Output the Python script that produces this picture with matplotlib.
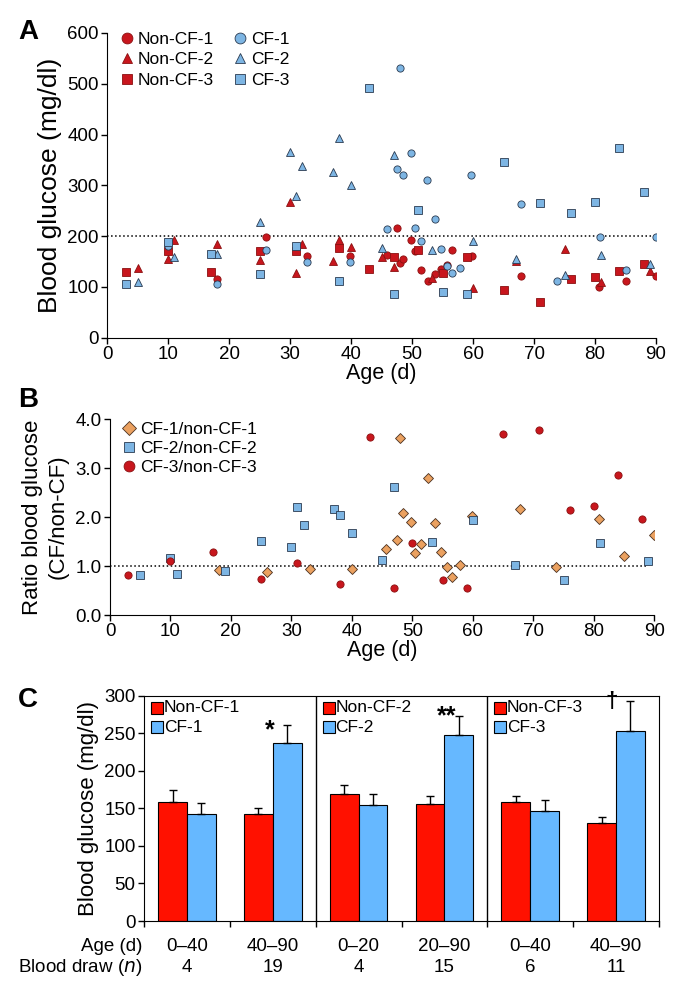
import numpy as np
import matplotlib
matplotlib.use("Agg")
import matplotlib.pyplot as plt
from matplotlib.transforms import blended_transform_factory

plt.rcParams['font.family'] = ['Liberation Sans', 'DejaVu Sans']

# In[] Daten Panel A (Alter in Tagen, Blutzucker mg/dl)
nc1_age = [18, 26, 32.8, 39.8, 45.8, 47.5, 48, 48.5, 49.8, 50.5, 51.5, 52.6, 53.7, 54.8, 55.7, 56.5, 59.8, 67.8, 80.7, 85, 90]
nc1_glu = [116, 198, 160, 160, 162, 216, 148, 154, 193, 171, 133, 111, 125, 136, 143, 172, 160, 121, 100, 112, 121]
nc2_age = [5, 10, 11, 18, 25, 30, 31, 32, 37, 38, 40, 45, 47, 53.2, 60, 67, 75, 81, 89]
nc2_glu = [138, 154, 192, 185, 153, 267, 127, 185, 152, 192, 179, 158, 139, 118, 98, 152, 174, 109, 131]
nc3_age = [3, 10, 17, 25, 31, 38, 43, 47, 51, 55, 59, 65, 71, 76, 80, 84, 88]
nc3_glu = [130, 171, 129, 171, 170, 177, 135, 159, 173, 127, 159, 94, 70, 115, 120, 131, 146]
cf1_age = [10, 18, 26, 32.8, 39.8, 45.8, 47.5, 48, 48.5, 49.8, 50.5, 51.5, 52.5, 53.7, 54.8, 55.8, 56.6, 57.8, 59.6, 67.8, 73.8, 80.8, 85, 90]
cf1_glu = [180, 105, 173, 150, 149, 214, 332, 531, 320, 364, 216, 190, 311, 234, 174, 141, 127, 137, 320, 263, 112, 198, 134, 198]
cf2_age = [5, 11, 18, 25, 30, 31, 32, 37, 38, 40, 45, 47, 53.2, 60, 67, 75, 81, 89]
cf2_glu = [110, 158, 164, 228, 366, 280, 339, 327, 394, 301, 177, 360, 173, 190, 155, 123, 163, 146]
cf3_age = [3, 10, 17, 25, 31, 38, 43, 47, 51, 55, 59, 65, 71, 76, 80, 84, 88]
cf3_glu = [105, 188, 165, 125, 181, 112, 491, 87, 252, 90, 87, 346, 265, 246, 267, 374, 286]

# In[] Daten Panel B (Verhaeltnis CF/non-CF)
r1_age = [18, 26, 33, 40, 45.7, 47.5, 48, 48.5, 49.8, 50.5, 51.5, 52.5, 53.8, 54.8, 55.8, 56.5, 57.8, 59.8, 67.8, 73.8, 80.8, 85, 90]
r1_val = [0.92, 0.88, 0.94, 0.93, 1.34, 1.54, 3.62, 2.09, 1.90, 1.27, 1.46, 2.80, 1.89, 1.29, 0.98, 0.77, 1.02, 2.02, 2.17, 0.99, 1.96, 1.20, 1.64]
r2_age = [5, 10, 11, 19, 25, 30, 31, 32, 37, 38, 40, 45, 47, 53.2, 60, 67, 75, 81, 89]
r2_val = [0.81, 1.17, 0.84, 0.89, 1.51, 1.38, 2.21, 1.83, 2.17, 2.04, 1.68, 1.12, 2.61, 1.49, 1.94, 1.03, 0.72, 1.47, 1.10]
r3_age = [3, 10, 17, 25, 31, 38, 43, 47, 50, 55, 59, 65, 71, 76, 80, 84, 88]
r3_val = [0.82, 1.10, 1.28, 0.74, 1.07, 0.63, 3.64, 0.55, 1.48, 0.72, 0.55, 3.69, 3.78, 2.14, 2.23, 2.86, 1.96]

# In[] Daten Panel C (Mittelwert + Fehler)
age_groups = ['0\u201340', '40\u201390', '0\u201320', '20\u201390', '0\u201340', '40\u201390']
n_draws = ['4', '19', '4', '15', '6', '11']
noncf_mean = [158, 143, 169, 156, 158, 130]
noncf_err = [16, 7, 12, 11, 9, 9]
cf_mean = [143, 237, 154, 248, 146, 253]
cf_err = [14, 24, 15, 25, 15, 40]
legend_names = [('Non-CF-1', 'CF-1'), ('Non-CF-2', 'CF-2'), ('Non-CF-3', 'CF-3')]
signif = ['*', '**', '\u2020']

W, H = 676, 997
fig = plt.figure(figsize=(W / 100, H / 100), dpi=100)

def px_axes(left, top, right, bottom):
    return fig.add_axes([left / W, 1 - bottom / H, (right - left) / W, (bottom - top) / H])

RED = '#c8161d'
BLUE = '#7db5e3'
tick_fs = 13.5
leg_fs = 12.5
xlab_fs = 15.5

# In[] Panel A
axA = px_axes(107.3, 33, 656, 337.7)
ms = 5.2
kw_red = dict(linestyle='none', markersize=ms, markerfacecolor=RED, markeredgecolor='#8a1010', markeredgewidth=0.6)
kw_blue = dict(linestyle='none', markersize=ms, markerfacecolor=BLUE, markeredgecolor='#2a3a50', markeredgewidth=0.6)
axA.axhline(200, color='black', linestyle=':', linewidth=1.1, zorder=1)
h1, = axA.plot(nc1_age, nc1_glu, 'o', label='Non-CF-1', **kw_red)
h2, = axA.plot(nc2_age, nc2_glu, '^', label='Non-CF-2', **kw_red)
h3, = axA.plot(nc3_age, nc3_glu, 's', label='Non-CF-3', **kw_red)
h4, = axA.plot(cf1_age, cf1_glu, 'o', label='CF-1', **kw_blue)
h5, = axA.plot(cf2_age, cf2_glu, '^', label='CF-2', **kw_blue)
h6, = axA.plot(cf3_age, cf3_glu, 's', label='CF-3', **kw_blue)
axA.set_xlim(0, 90)
axA.set_ylim(0, 600)
axA.set_xticks(np.arange(0, 91, 10))
axA.set_yticks(np.arange(0, 601, 100))
axA.set_xlabel('Age (d)', fontsize=xlab_fs, labelpad=0)
axA.set_ylabel('Blood glucose (mg/dl)', fontsize=19, labelpad=4)
axA.legend(handles=[h1, h2, h3, h4, h5, h6], ncol=2, loc='upper left', bbox_to_anchor=(-0.009, 1.056),
           frameon=False, fontsize=leg_fs, markerscale=1.5, handletextpad=0.15, columnspacing=1.0,
           labelspacing=0.32, handlelength=1.0)

# In[] Panel B
axB = px_axes(110, 419.3, 654.3, 615)
kw = dict(linestyle='none', markersize=5.2, markeredgewidth=0.6)
axB.plot([0, 89], [1, 1], color='black', linestyle=':', linewidth=1.1, zorder=1)
g1, = axB.plot(r1_age, r1_val, 'D', markerfacecolor='#eba160', markeredgecolor='#4a3020', label='CF-1/non-CF-1', markersize=4.6, linestyle='none', markeredgewidth=0.6)
g2, = axB.plot(r2_age, r2_val, 's', markerfacecolor=BLUE, markeredgecolor='#2a3a50', label='CF-2/non-CF-2', **kw)
g3, = axB.plot(r3_age, r3_val, 'o', markerfacecolor=RED, markeredgecolor='#8a1010', label='CF-3/non-CF-3', **kw)
axB.set_xlim(0, 90)
axB.set_ylim(0, 4)
axB.set_xticks(np.arange(0, 91, 10))
axB.set_yticks(np.arange(0, 4.01, 1.0))
axB.set_yticklabels(['%.1f' % v for v in np.arange(0, 4.01, 1.0)])
axB.set_xlabel('Age (d)', fontsize=xlab_fs, labelpad=0)
axB.set_ylabel('Ratio blood glucose\n(CF/non-CF)', fontsize=16, labelpad=5, linespacing=1.3)
axB.legend(handles=[g1, g2, g3], loc='upper left', bbox_to_anchor=(-0.009, 1.066), frameon=False,
           fontsize=leg_fs, markerscale=1.5, handletextpad=0.1, labelspacing=0.21, handlelength=1.0)

for ax in (axA, axB):
    ax.spines['top'].set_visible(False)
    ax.spines['right'].set_visible(False)
    ax.tick_params(direction='out', length=4, width=1, labelsize=tick_fs, pad=2)

# In[] Panel C
axC = px_axes(144, 695.7, 659, 921)
xc = np.arange(6) + 0.5
bw = 0.335
axC.bar(xc - bw / 2, noncf_mean, bw, yerr=[np.zeros(6), noncf_err], color='#ff1100', edgecolor='black',
        linewidth=0.8, error_kw=dict(ecolor='black', elinewidth=1, capsize=3, capthick=1))
axC.bar(xc + bw / 2, cf_mean, bw, yerr=[np.zeros(6), cf_err], color='#66b8ff', edgecolor='black',
        linewidth=0.8, error_kw=dict(ecolor='black', elinewidth=1, capsize=3, capthick=1))
axC.axvline(2, color='black', linewidth=1)
axC.axvline(4, color='black', linewidth=1)
axC.set_xlim(0, 6)
axC.set_ylim(0, 300)
axC.set_xticks(np.arange(0, 7, 1))
axC.set_xticklabels([])
axC.set_yticks(np.arange(0, 301, 50))
axC.tick_params(direction='out', length=4, width=1, labelsize=tick_fs, pad=2)
axC.set_ylabel('Blood glucose (mg/dl)', fontsize=16, labelpad=4)

# Legenden je Teilbereich
for k, (n1, n2) in enumerate(legend_names):
    x0 = 2 * k + 0.08
    for j, (nm, col) in enumerate([(n1, '#ff1100'), (n2, '#66b8ff')]):
        yy = 284 - j * 26
        axC.plot([x0 + 0.07], [yy], 's', markersize=8.5, markerfacecolor=col, markeredgecolor='black', markeredgewidth=0.8)
        axC.text(x0 + 0.15, yy, nm, fontsize=leg_fs, va='center', ha='left')

# Signifikanzzeichen neben dem Fehlerbalken
star_dx = [-0.2, -0.14, -0.22]
star_dy = [-16, -10, -8]
for k in range(3):
    i = 2 * k + 1
    top = cf_mean[i] + cf_err[i]
    fs = 16 if signif[k] == '\u2020' else 18
    axC.text(xc[i] + bw / 2 + star_dx[k], top + star_dy[k], signif[k], fontsize=fs, fontweight='bold',
             ha='center', va='baseline')

trans = blended_transform_factory(axC.transData, fig.transFigure)
for i in range(6):
    axC.text(xc[i], 1 - 946 / H, age_groups[i], fontsize=tick_fs, ha='center', va='center', transform=trans)
    axC.text(xc[i], 1 - 967 / H, n_draws[i], fontsize=tick_fs, ha='center', va='center', transform=trans)
fig.text(142 / W, 1 - 946 / H, 'Age (d)', fontsize=tick_fs, ha='right', va='center')
fig.text(142 / W, 1 - 967 / H, 'Blood draw ($n$)', fontsize=tick_fs, ha='right', va='center')

# Panelbuchstaben
fig.text(18 / W, 1 - 32 / H, 'A', fontsize=20, fontweight='bold', va='center')
fig.text(18 / W, 1 - 400 / H, 'B', fontsize=20, fontweight='bold', va='center')
fig.text(18 / W, 1 - 700 / H, 'C', fontsize=20, fontweight='bold', va='center')

fig.savefig('out.png', dpi=100)
